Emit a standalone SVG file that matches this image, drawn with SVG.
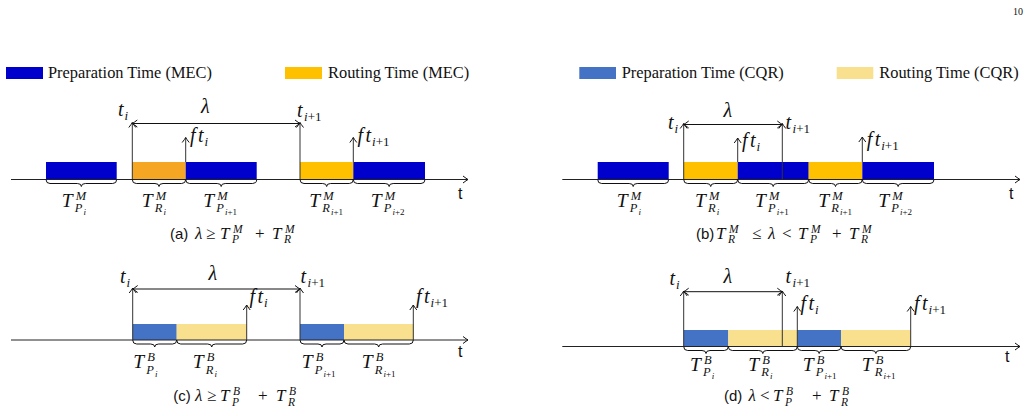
<svg xmlns="http://www.w3.org/2000/svg" width="1034" height="416" viewBox="0 0 1034 416">
<style>
.bg{fill:#fff}
.ax{stroke:#222;stroke-width:1;fill:none;marker-end:url(#ah)}
.va{stroke:#333;stroke-width:1;fill:none;marker-end:url(#ah)}
.da{stroke:#111;stroke-width:1;fill:none;marker-start:url(#ah);marker-end:url(#ah)}
.br{stroke:#111;stroke-width:1;fill:none}
.pm{fill:#0000CD}.rm1{fill:#F5A623}.rm{fill:#FFC000}
.pc{fill:#4472C4}.rc{fill:#F9E08E}
.lg{font-family:"Liberation Serif","DejaVu Serif",serif;font-size:16.4px;fill:#111}
.m{font-family:"Liberation Serif","DejaVu Serif",serif;font-style:italic;font-size:20px;fill:#111}
.mt{font-family:"Liberation Serif","DejaVu Serif",serif;font-style:italic;font-size:19.5px;fill:#111}
.sp{font-size:13px}
.sq{font-size:12.5px}
.sb{font-size:9px;font-style:italic}
.up{font-style:normal}
.sans{font-family:"Liberation Sans",sans-serif;fill:#111}
.cm{font-family:"Liberation Serif","DejaVu Serif",serif;font-style:italic;font-size:17px;fill:#111}
.cs{font-size:11.5px}
</style>
<defs>
<marker id="ah" viewBox="-6 -5 7 10" markerWidth="7" markerHeight="10" refX="0" refY="0" orient="auto-start-reverse" markerUnits="userSpaceOnUse">
<path d="M-5,-3.5 Q-1.5,-0.8 0,0 Q-1.5,0.8 -5,3.5" fill="none" stroke="#111" stroke-width="1"/>
</marker>
</defs>
<rect class="bg" x="0" y="0" width="1034" height="416"/>
<text x="1013" y="15" font-family="Liberation Serif,serif" font-size="10" fill="#111">10</text>

<g id="legend-mec">
<rect class="pm" x="6" y="67" width="37" height="12"/>
<text class="lg" x="48" y="78">Preparation Time (MEC)</text>
<rect class="rm" x="285" y="67" width="37" height="12"/>
<text class="lg" x="328" y="78">Routing Time (MEC)</text>
</g>
<g id="legend-cqr">
<rect class="pc" x="579.3" y="67" width="36.7" height="12"/>
<text class="lg" x="621.7" y="78">Preparation Time (CQR)</text>
<rect class="rc" x="836.7" y="67" width="36.6" height="12"/>
<text class="lg" x="879.3" y="78">Routing Time (CQR)</text>
</g>

<!-- Panel (a) -->
<g id="panel-a">
<g id="a-blocks">
<rect class="pm" x="46" y="162" width="70.7" height="17.5"/>
<rect class="rm1" x="132.3" y="162" width="53.4" height="17.5"/>
<rect class="pm" x="185.7" y="162" width="71" height="17.5"/>
<rect class="rm" x="300" y="162" width="53.3" height="17.5"/>
<rect class="pm" x="353.3" y="162" width="71.7" height="17.5"/>
</g>
<g id="a-connectors">
<line class="ax" x1="11" y1="179.5" x2="468" y2="179.5"/>
<line class="va" x1="132.3" y1="179.5" x2="132.3" y2="122.5"/>
<line class="va" x1="300" y1="179.5" x2="300" y2="122.5"/>
<line class="va" x1="185.7" y1="162" x2="185.7" y2="137.5"/>
<line class="va" x1="353.3" y1="162" x2="353.3" y2="137.5"/>
<line class="da" x1="132.3" y1="123.5" x2="300" y2="123.5"/>
<path class="br" d="M46 179.5 q0 4 4 4 H77.35 q4 0 4 3 q0 -3 4 -3 H112.7 q4 0 4 -4"/>
<path class="br" d="M132.3 179.5 q0 4 4 4 H155 q4 0 4 3 q0 -3 4 -3 H181.7 q4 0 4 -4"/>
<path class="br" d="M185.7 179.5 q0 4 4 4 H217.2 q4 0 4 3 q0 -3 4 -3 H252.7 q4 0 4 -4"/>
<path class="br" d="M300 179.5 q0 4 4 4 H322.65 q4 0 4 3 q0 -3 4 -3 H349.3 q4 0 4 -4"/>
<path class="br" d="M353.3 179.5 q0 4 4 4 H385.15 q4 0 4 3 q0 -3 4 -3 H421 q4 0 4 -4"/>
</g>
<g id="a-labels">
<text class="sans" x="458" y="199" font-size="16">t</text>
<text class="m" x="118" y="116">t<tspan class="sp" x="124.5" y="120">i</tspan></text>
<text class="m" x="201" y="113">λ</text>
<text class="m" x="297" y="116.5">t<tspan class="sp" x="304" y="120.5">i<tspan class="up">+1</tspan></tspan></text>
<text class="m" x="190" y="142">f<tspan x="198">t</tspan><tspan class="sp" x="204.5" y="146">i</tspan></text>
<text class="m" x="357.5" y="142">f<tspan x="365.5">t</tspan><tspan class="sp" x="372" y="146">i<tspan class="up">+1</tspan></tspan></text>
<text class="mt" x="61.7" y="206.5">T<tspan class="sq" x="75.7" y="199.5">M</tspan><tspan class="sq" x="74.7" y="212">P</tspan><tspan class="sb" x="83.4" y="215">i</tspan></text>
<text class="mt" x="141.7" y="206.5">T<tspan class="sq" x="155.7" y="199.5">M</tspan><tspan class="sq" x="154.7" y="212">R</tspan><tspan class="sb" x="163.4" y="215">i</tspan></text>
<text class="mt" x="203.3" y="206.5">T<tspan class="sq" x="217.3" y="199.5">M</tspan><tspan class="sq" x="216.3" y="212">P</tspan><tspan class="sb" x="225" y="215">i<tspan class="up">+1</tspan></tspan></text>
<text class="mt" x="309.3" y="206.5">T<tspan class="sq" x="323.3" y="199.5">M</tspan><tspan class="sq" x="322.3" y="212">R</tspan><tspan class="sb" x="331" y="215">i<tspan class="up">+1</tspan></tspan></text>
<text class="mt" x="370.7" y="206.5">T<tspan class="sq" x="384.7" y="199.5">M</tspan><tspan class="sq" x="383.7" y="212">P</tspan><tspan class="sb" x="392.4" y="215">i<tspan class="up">+2</tspan></tspan></text>
<text class="sans" x="170" y="238.5" font-size="15">(a)</text>
<text class="cm" x="195" y="238.5">λ<tspan class="up" x="206">≥</tspan><tspan x="220">T</tspan><tspan class="cs" x="233" y="232.5">M</tspan><tspan class="cs" x="232" y="243">P</tspan><tspan class="up" x="255" y="238.5">+</tspan><tspan x="272">T</tspan><tspan class="cs" x="285" y="232.5">M</tspan><tspan class="cs" x="284" y="243">R</tspan></text>
</g>
</g>

<!-- Panel (b) -->
<g id="panel-b">
<g id="b-blocks">
<rect class="pm" x="597.7" y="162" width="71" height="17.5"/>
<rect class="rm" x="683.7" y="162" width="54" height="17.5"/>
<rect class="pm" x="737.7" y="162" width="71" height="17.5"/>
<rect class="rm" x="808.7" y="162" width="53.6" height="17.5"/>
<rect class="pm" x="862.3" y="162" width="71.7" height="17.5"/>
</g>
<g id="b-connectors">
<line class="ax" x1="562.3" y1="179.5" x2="1020" y2="179.5"/>
<line class="va" x1="683.7" y1="179.5" x2="683.7" y2="123.5"/>
<line class="va" x1="782.3" y1="179.5" x2="782.3" y2="123.5"/>
<line class="va" x1="737.7" y1="162" x2="737.7" y2="138"/>
<line class="va" x1="862.3" y1="162" x2="862.3" y2="137"/>
<line class="da" x1="683.7" y1="124.5" x2="782.3" y2="124.5"/>
<path class="br" d="M597.7 179.5 q0 4 4 4 H629.2 q4 0 4 3 q0 -3 4 -3 H664.7 q4 0 4 -4"/>
<path class="br" d="M683.7 179.5 q0 4 4 4 H706.7 q4 0 4 3 q0 -3 4 -3 H733.7 q4 0 4 -4"/>
<path class="br" d="M737.7 179.5 q0 4 4 4 H769.2 q4 0 4 3 q0 -3 4 -3 H804.7 q4 0 4 -4"/>
<path class="br" d="M808.7 179.5 q0 4 4 4 H831.5 q4 0 4 3 q0 -3 4 -3 H858.3 q4 0 4 -4"/>
<path class="br" d="M862.3 179.5 q0 4 4 4 H894.15 q4 0 4 3 q0 -3 4 -3 H930 q4 0 4 -4"/>
</g>
<g id="b-labels">
<text class="sans" x="1009" y="199" font-size="16">t</text>
<text class="m" x="668" y="128.5">t<tspan class="sp" x="674.5" y="132.5">i</tspan></text>
<text class="m" x="723.5" y="116.5">λ</text>
<text class="m" x="785.5" y="128.5">t<tspan class="sp" x="792.5" y="132.5">i<tspan class="up">+1</tspan></tspan></text>
<text class="m" x="742" y="146.5">f<tspan x="750">t</tspan><tspan class="sp" x="756.5" y="150.5">i</tspan></text>
<text class="m" x="866.7" y="145.5">f<tspan x="874.7">t</tspan><tspan class="sp" x="881.2" y="149.5">i<tspan class="up">+1</tspan></tspan></text>
<text class="mt" x="616.7" y="206.5">T<tspan class="sq" x="630.7" y="199.5">M</tspan><tspan class="sq" x="629.7" y="212">P</tspan><tspan class="sb" x="638.4" y="215">i</tspan></text>
<text class="mt" x="695" y="206.5">T<tspan class="sq" x="709" y="199.5">M</tspan><tspan class="sq" x="708" y="212">R</tspan><tspan class="sb" x="716.7" y="215">i</tspan></text>
<text class="mt" x="755" y="206.5">T<tspan class="sq" x="769" y="199.5">M</tspan><tspan class="sq" x="768" y="212">P</tspan><tspan class="sb" x="776.7" y="215">i<tspan class="up">+1</tspan></tspan></text>
<text class="mt" x="818.3" y="206.5">T<tspan class="sq" x="832.3" y="199.5">M</tspan><tspan class="sq" x="831.3" y="212">R</tspan><tspan class="sb" x="840" y="215">i<tspan class="up">+1</tspan></tspan></text>
<text class="mt" x="878.3" y="206.5">T<tspan class="sq" x="892.3" y="199.5">M</tspan><tspan class="sq" x="891.3" y="212">P</tspan><tspan class="sb" x="900" y="215">i<tspan class="up">+2</tspan></tspan></text>
<text class="sans" x="696" y="238.5" font-size="15">(b)</text>
<text class="cm" x="716" y="238.5">T<tspan class="cs" x="729" y="232.5">M</tspan><tspan class="cs" x="728" y="243">R</tspan><tspan class="up" x="752" y="238.5">≤</tspan><tspan x="768">λ</tspan><tspan class="up" x="782">&lt;</tspan><tspan x="798">T</tspan><tspan class="cs" x="811" y="232.5">M</tspan><tspan class="cs" x="810" y="243">P</tspan><tspan class="up" x="832" y="238.5">+</tspan><tspan x="849">T</tspan><tspan class="cs" x="862" y="232.5">M</tspan><tspan class="cs" x="861" y="243">R</tspan></text>
</g>
</g>

<!-- Panel (c) -->
<g id="panel-c">
<g id="c-blocks">
<rect class="pc" x="132.7" y="324" width="44" height="16"/>
<rect class="rc" x="176.7" y="324" width="70" height="16"/>
<rect class="pc" x="300" y="324" width="44" height="16"/>
<rect class="rc" x="344" y="324" width="69.3" height="16"/>
</g>
<g id="c-connectors">
<line class="ax" x1="11" y1="340" x2="468" y2="340"/>
<line class="va" x1="132.7" y1="340" x2="132.7" y2="288"/>
<line class="va" x1="300" y1="340" x2="300" y2="288"/>
<line class="va" x1="246.7" y1="340" x2="246.7" y2="305"/>
<line class="va" x1="413.3" y1="340" x2="413.3" y2="305"/>
<line class="da" x1="132.7" y1="289" x2="300" y2="289"/>
<path class="br" d="M132.7 340 q0 4 4 4 H150.7 q4 0 4 3 q0 -3 4 -3 H172.7 q4 0 4 -4"/>
<path class="br" d="M176.7 340 q0 4 4 4 H207.7 q4 0 4 3 q0 -3 4 -3 H242.7 q4 0 4 -4"/>
<path class="br" d="M300 340 q0 4 4 4 H318 q4 0 4 3 q0 -3 4 -3 H340 q4 0 4 -4"/>
<path class="br" d="M344 340 q0 4 4 4 H374.65 q4 0 4 3 q0 -3 4 -3 H409.3 q4 0 4 -4"/>
</g>
<g id="c-labels">
<text class="sans" x="458" y="357" font-size="16">t</text>
<text class="m" x="120" y="283">t<tspan class="sp" x="126.5" y="287">i</tspan></text>
<text class="m" x="208.5" y="280">λ</text>
<text class="m" x="300.5" y="283">t<tspan class="sp" x="307.5" y="287">i<tspan class="up">+1</tspan></tspan></text>
<text class="m" x="249.5" y="303">f<tspan x="257.5">t</tspan><tspan class="sp" x="264" y="307">i</tspan></text>
<text class="m" x="416" y="303">f<tspan x="424">t</tspan><tspan class="sp" x="430.5" y="307">i<tspan class="up">+1</tspan></tspan></text>
<text class="mt" x="133.3" y="368.3">T<tspan class="sq" x="147.3" y="361.3">B</tspan><tspan class="sq" x="146.3" y="373.8">P</tspan><tspan class="sb" x="155" y="376.8">i</tspan></text>
<text class="mt" x="192.7" y="368.3">T<tspan class="sq" x="206.7" y="361.3">B</tspan><tspan class="sq" x="205.7" y="373.8">R</tspan><tspan class="sb" x="214.4" y="376.8">i</tspan></text>
<text class="mt" x="301.7" y="368.3">T<tspan class="sq" x="315.7" y="361.3">B</tspan><tspan class="sq" x="314.7" y="373.8">P</tspan><tspan class="sb" x="323.4" y="376.8">i<tspan class="up">+1</tspan></tspan></text>
<text class="mt" x="361.7" y="368.3">T<tspan class="sq" x="375.7" y="361.3">B</tspan><tspan class="sq" x="374.7" y="373.8">R</tspan><tspan class="sb" x="383.4" y="376.8">i<tspan class="up">+1</tspan></tspan></text>
<text class="sans" x="173.3" y="401" font-size="15">(c)</text>
<text class="cm" x="195" y="401">λ<tspan class="up" x="207">≥</tspan><tspan x="220">T</tspan><tspan class="cs" x="233" y="395">B</tspan><tspan class="cs" x="232" y="405.5">P</tspan><tspan class="up" x="258" y="401">+</tspan><tspan x="276">T</tspan><tspan class="cs" x="289" y="395">B</tspan><tspan class="cs" x="288" y="405.5">R</tspan></text>
</g>
</g>

<!-- Panel (d) -->
<g id="panel-d">
<g id="d-blocks">
<rect class="pc" x="683.7" y="330" width="44.6" height="16.5"/>
<rect class="rc" x="728.3" y="330" width="69" height="16.5"/>
<rect class="pc" x="797.3" y="330" width="43.7" height="16.5"/>
<rect class="rc" x="841" y="330" width="69.7" height="16.5"/>
</g>
<g id="d-connectors">
<line class="ax" x1="562.3" y1="346.5" x2="1020" y2="346.5"/>
<line class="va" x1="683.7" y1="346.5" x2="683.7" y2="291"/>
<line class="va" x1="782.3" y1="346.5" x2="782.3" y2="291"/>
<line class="va" x1="797.3" y1="346.5" x2="797.3" y2="306.5"/>
<line class="va" x1="910.7" y1="346.5" x2="910.7" y2="306.5"/>
<line class="da" x1="683.7" y1="291.7" x2="782.3" y2="291.7"/>
<path class="br" d="M683.7 346.5 q0 4 4 4 H702 q4 0 4 3 q0 -3 4 -3 H724.3 q4 0 4 -4"/>
<path class="br" d="M728.3 346.5 q0 4 4 4 H758.8 q4 0 4 3 q0 -3 4 -3 H793.3 q4 0 4 -4"/>
<path class="br" d="M797.3 346.5 q0 4 4 4 H815.15 q4 0 4 3 q0 -3 4 -3 H837 q4 0 4 -4"/>
<path class="br" d="M841 346.5 q0 4 4 4 H871.85 q4 0 4 3 q0 -3 4 -3 H906.7 q4 0 4 -4"/>
</g>
<g id="d-labels">
<text class="sans" x="1005" y="362" font-size="16">t</text>
<text class="m" x="669.5" y="284.5">t<tspan class="sp" x="676" y="288.5">i</tspan></text>
<text class="m" x="723.5" y="283">λ</text>
<text class="m" x="785.5" y="283">t<tspan class="sp" x="792.5" y="287">i<tspan class="up">+1</tspan></tspan></text>
<text class="m" x="800.5" y="310">f<tspan x="808.5">t</tspan><tspan class="sp" x="815" y="314">i</tspan></text>
<text class="m" x="914" y="310">f<tspan x="922">t</tspan><tspan class="sp" x="928.5" y="314">i<tspan class="up">+1</tspan></tspan></text>
<text class="mt" x="690" y="370.7">T<tspan class="sq" x="704" y="363.7">B</tspan><tspan class="sq" x="703" y="376.2">P</tspan><tspan class="sb" x="711.7" y="379.2">i</tspan></text>
<text class="mt" x="748.3" y="370.7">T<tspan class="sq" x="762.3" y="363.7">B</tspan><tspan class="sq" x="761.3" y="376.2">R</tspan><tspan class="sb" x="770" y="379.2">i</tspan></text>
<text class="mt" x="802.7" y="370.7">T<tspan class="sq" x="816.7" y="363.7">B</tspan><tspan class="sq" x="815.7" y="376.2">P</tspan><tspan class="sb" x="824.4" y="379.2">i<tspan class="up">+1</tspan></tspan></text>
<text class="mt" x="861.7" y="370.7">T<tspan class="sq" x="875.7" y="363.7">B</tspan><tspan class="sq" x="874.7" y="376.2">R</tspan><tspan class="sb" x="883.4" y="379.2">i<tspan class="up">+1</tspan></tspan></text>
<text class="sans" x="724" y="401" font-size="15">(d)</text>
<text class="cm" x="748.5" y="401">λ<tspan class="up" x="760">&lt;</tspan><tspan x="773">T</tspan><tspan class="cs" x="786" y="395">B</tspan><tspan class="cs" x="785" y="405.5">P</tspan><tspan class="up" x="812" y="401">+</tspan><tspan x="829">T</tspan><tspan class="cs" x="842" y="395">B</tspan><tspan class="cs" x="841" y="405.5">R</tspan></text>
</g>
</g>
</svg>
